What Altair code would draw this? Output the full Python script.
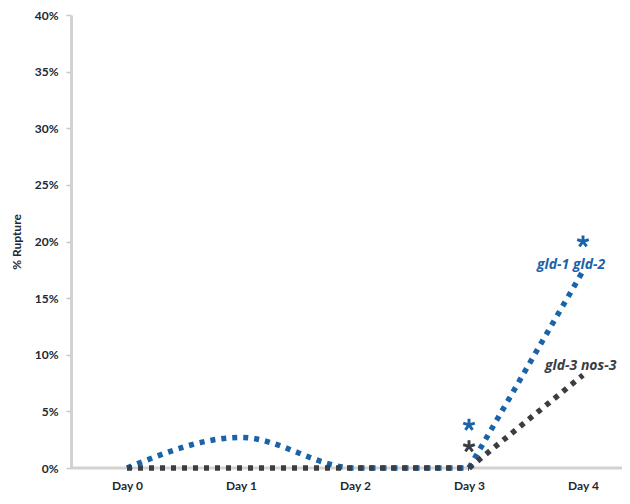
import math
import altair as alt
import pandas as pd

days = ["Day 0", "Day 1", "Day 2", "Day 3", "Day 4"]
gld1_gld2 = [0.0, 0.027, 0.0, 0.0, 0.174]
gld3_nos3 = [0.0, 0.0, 0.0, 0.0, 0.082]
series_names = ["gld-1 gld-2", "gld-3 nos-3"]
series_colors = ["#1a63a8", "#3a3e42"]
y_ticks = [0.0, 0.05, 0.10, 0.15, 0.20, 0.25, 0.30, 0.35, 0.40]

star_days = ["Day 3", "Day 3", "Day 4"]
star_values = [0.038, 0.019, 0.200]
star_colors = ["#1a63a8", "#3a3e42", "#1a63a8"]

label_days = ["Day 4", "Day 4"]
label_values = [0.179, 0.090]
label_offsets = [-46, -38]

W, H = 551, 453
FONT = "Lato"
TXT = "#1c2833"

# asterisk glyph as a symbol path (5 arms)
def asterisk_path(n=5, w=0.24):
    parts = []
    for k in range(n):
        a = math.radians(-90 + k * 360 / n)
        dx, dy = math.cos(a), math.sin(a)
        px, py = -dy * w, dx * w
        pts = [(-px, -py), (px, py), (dx + px, dy + py), (dx - px, dy - py)]
        parts.append("M" + "L".join(f"{x:.3f},{y:.3f}" for x, y in pts) + "Z")
    return "".join(parts)

rows = []
for name, vals, col in zip(series_names, [gld1_gld2, gld3_nos3], series_colors):
    for i, (d, v) in enumerate(zip(days, vals)):
        rows.append({"day": d, "idx": i, "value": v, "series": name, "color": col})
lines_df = pd.DataFrame(rows)
early_df = lines_df[lines_df["idx"] <= 3]
late_df = lines_df[lines_df["idx"] >= 3]

stars_df = pd.DataFrame({"day": star_days, "value": star_values, "color": star_colors})
labels_df = pd.DataFrame({"day": label_days, "value": label_values, "text": series_names,
                          "color": series_colors, "dx": label_offsets})

xscale = alt.Scale(type="point", domain=days, range=[56, 512], padding=0)
yscale = alt.Scale(domain=[0, 0.4], nice=False)

xenc = alt.X("day:O", scale=xscale, sort=days,
             axis=alt.Axis(title=None, domain=False, ticks=False, labelAngle=0,
                           labelPadding=12, labelFont=FONT, labelFontSize=12,
                           labelFontWeight="bold", labelColor=TXT))
yenc = alt.Y("value:Q", scale=yscale,
             axis=alt.Axis(title="% Rupture", values=y_ticks, format=".0%",
                           domainColor="#d2d2d2", domainWidth=3, tickColor="#c8c8c8",
                           tickSize=5, tickWidth=1.5, grid=False, labelPadding=8,
                           labelFont=FONT, labelFontSize=12, labelFontWeight="bold",
                           labelColor=TXT, titleFont=FONT, titleFontSize=12,
                           titleFontWeight="bold", titleColor=TXT, titleX=-48))

base_rule = alt.Chart(pd.DataFrame({"v": [0]})).mark_rule(color="#d2d2d2", strokeWidth=3).encode(
    x=alt.value(0), x2=alt.value(W), y=alt.value(H))

line_style = dict(strokeWidth=5.5, strokeDash=[5, 6], strokeCap="butt")

lines_early = alt.Chart(early_df).mark_line(interpolate="monotone", **line_style).encode(
    x=xenc, y=yenc,
    color=alt.Color("color:N", scale=None),
    detail="series:N",
    order=alt.Order("idx:Q"),
)
lines_late = alt.Chart(late_df).mark_line(interpolate="linear", **line_style).encode(
    x=alt.X("day:O", scale=xscale, sort=days),
    y=alt.Y("value:Q", scale=yscale),
    color=alt.Color("color:N", scale=None),
    detail="series:N",
    order=alt.Order("idx:Q"),
)

stars = alt.Chart(stars_df).mark_point(
    shape=asterisk_path(), filled=True, size=150, opacity=1
).encode(
    x=alt.X("day:O", scale=xscale, sort=days),
    y=alt.Y("value:Q", scale=yscale),
    color=alt.Color("color:N", scale=None),
)

labels = alt.Chart(labels_df).mark_text(
    font="Open Sans", fontSize=14, fontStyle="italic", fontWeight="bold", align="left",
    baseline="middle"
).encode(
    x=alt.X("day:O", scale=xscale, sort=days),
    y=alt.Y("value:Q", scale=yscale),
    text="text:N",
    color=alt.Color("color:N", scale=None),
    xOffset=alt.XOffset("dx:Q", scale=None),
)

chart = alt.layer(base_rule, lines_early, lines_late, stars, labels).properties(
    width=W, height=H,
    autosize=alt.AutoSizeParams(type="none"),
    padding={"left": 63, "top": 7, "right": 0, "bottom": 28},
    background="white",
).configure_view(stroke=None)

chart.save("out.html", embed_options={"renderer": "svg", "actions": False})
